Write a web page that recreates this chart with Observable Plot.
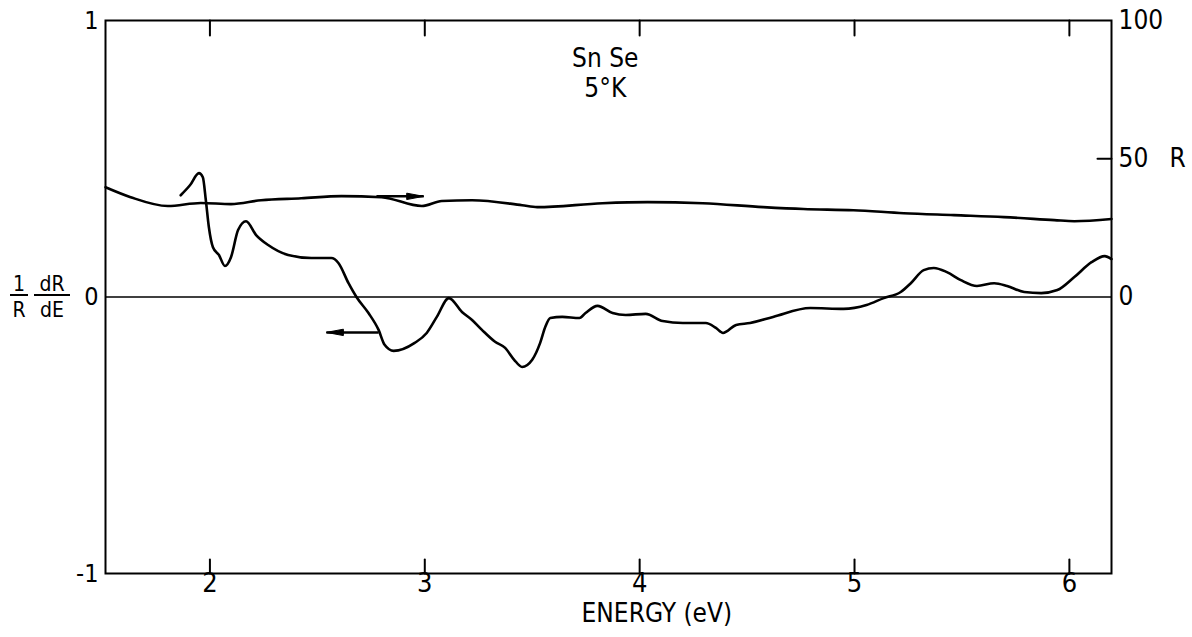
<!DOCTYPE html>
<html><head><meta charset="utf-8">
<script src="https://cdn.jsdelivr.net/npm/d3@7"></script>
<script src="https://cdn.jsdelivr.net/npm/@observablehq/plot@0.6"></script>
<style>body{margin:0;background:#fff;}</style>
</head><body><div id="chart"></div>
<script>
// ---- tick values & labels ----
const xTicks = [2, 3, 4, 5, 6];
const xTickLabels = ["2", "3", "4", "5", "6"];
const leftTicks = [1, 0, -1];
const leftTickLabels = ["1", "0", "-1"];
const rightTicks = [100, 50, 0];
const rightTickLabels = ["100", "50", "0"];
const rInnerTicks = [50];

// ---- reflectance R (%) vs energy (eV), right axis ----
const rEnergy = [1.514, 1.631, 1.804, 1.958, 2.098, 2.238, 2.425, 2.612, 2.799, 2.986, 3.079, 3.220, 3.453, 3.523, 3.827, 4.037, 4.294, 4.575, 4.762, 4.995, 5.229, 5.463, 5.696, 5.930, 6.023, 6.196];
const rValues = [39.7, 36.1, 32.9, 34.0, 33.6, 35.0, 35.7, 36.5, 36.1, 32.9, 34.7, 35.0, 33.2, 32.5, 33.9, 34.3, 33.9, 32.5, 31.8, 31.4, 30.3, 29.6, 28.9, 27.8, 27.4, 28.2];

// ---- (1/R) dR/dE vs energy (eV), left axis ----
const dEnergy = [1.864, 1.907, 1.949, 1.967, 1.981, 1.995, 2.014, 2.042, 2.070, 2.098, 2.131, 2.168, 2.215, 2.271, 2.364, 2.472, 2.565, 2.598, 2.645, 2.682, 2.738, 2.785, 2.813, 2.855, 2.953, 3.009, 3.056, 3.112, 3.173, 3.220, 3.266, 3.327, 3.374, 3.416, 3.453, 3.500, 3.537, 3.561, 3.584, 3.640, 3.720, 3.748, 3.804, 3.874, 3.935, 4.028, 4.107, 4.201, 4.308, 4.355, 4.388, 4.449, 4.514, 4.621, 4.794, 4.949, 5.056, 5.136, 5.215, 5.262, 5.322, 5.369, 5.430, 5.495, 5.570, 5.650, 5.710, 5.790, 5.869, 5.944, 6.023, 6.103, 6.164, 6.196];
const dValues = [0.368, 0.404, 0.448, 0.433, 0.350, 0.253, 0.180, 0.152, 0.112, 0.144, 0.242, 0.274, 0.224, 0.188, 0.152, 0.141, 0.141, 0.123, 0.050, 0.000, -0.058, -0.119, -0.173, -0.195, -0.166, -0.130, -0.072, -0.004, -0.054, -0.083, -0.119, -0.162, -0.184, -0.227, -0.253, -0.227, -0.166, -0.108, -0.076, -0.072, -0.076, -0.058, -0.032, -0.058, -0.065, -0.061, -0.087, -0.094, -0.094, -0.112, -0.130, -0.101, -0.094, -0.072, -0.040, -0.043, -0.029, -0.004, 0.018, 0.050, 0.097, 0.105, 0.090, 0.061, 0.040, 0.050, 0.040, 0.018, 0.014, 0.025, 0.072, 0.126, 0.148, 0.137];

// ---- annotation arrows (energy, left-axis value) ----
const arrowX1 = [2.775, 2.785];
const arrowX2 = [2.995, 2.542];
const arrowY = [0.364, -0.128];
const arrowDir = [90, -90];

const sampleLabels = ["Sn Se", "5°K"];

const FONT = "DejaVu Sans Condensed, DejaVu Sans";
const rData = rEnergy.map((e, i) => ({e, r: rValues[i]}));
const dData = dEnergy.map((e, i) => ({e, v: dValues[i]}));
const tickShape = {draw(ctx, l) { ctx.moveTo(0, 0); ctx.lineTo(0, -l); }};
// elongated filled arrowhead, tip at origin pointing up
const headSymbol = {draw(ctx) { ctx.moveTo(0, 0); ctx.lineTo(3.2, 17); ctx.lineTo(-3.2, 17); ctx.closePath(); }};

// y-axis fraction label "1/R dR/dE"
function yFractionLabel(index, scales, values, dims) {
  const g = d3.create("svg:g").attr("font-family", FONT).attr("font-size", 21).attr("fill", "black");
  const y0 = scales.y(0);
  const x0 = dims.marginLeft;
  const parts = [{num: "1", den: "R", cx: x0 - 86, hw: 9}, {num: "dR", den: "dE", cx: x0 - 53, hw: 18}];
  for (const p of parts) {
    g.append("text").attr("x", p.cx).attr("y", y0 - 13).attr("text-anchor", "middle").attr("dominant-baseline", "central").text(p.num);
    g.append("line").attr("x1", p.cx - p.hw).attr("x2", p.cx + p.hw).attr("y1", y0 - 1.5).attr("y2", y0 - 1.5).attr("stroke", "black").attr("stroke-width", 2);
    g.append("text").attr("x", p.cx).attr("y", y0 + 13).attr("text-anchor", "middle").attr("dominant-baseline", "central").text(p.den);
  }
  return g.node();
}

const chart = Plot.plot({
  width: 1192,
  height: 637,
  marginLeft: 105,
  marginRight: 81,
  marginTop: 20,
  marginBottom: 64,
  x: {domain: [1.514, 6.196], axis: null},
  y: {domain: [-1, 1], axis: null},
  style: {fontFamily: FONT, background: "white", color: "black"},
  marks: [
    Plot.ruleY([0], {stroke: "black", strokeWidth: 1.3}),
    Plot.frame({stroke: "black", strokeWidth: 2}),
    // inward ticks
    Plot.vector(xTicks, {x: d => d, frameAnchor: "bottom", length: 14, rotate: 0, anchor: "start", shape: tickShape, strokeWidth: 2, stroke: "black"}),
    Plot.vector(xTicks, {x: d => d, frameAnchor: "top", length: 15, rotate: 180, anchor: "start", shape: tickShape, strokeWidth: 2, stroke: "black"}),
    Plot.vector(rInnerTicks, {y: d => d / 100, frameAnchor: "right", length: 14, rotate: -90, anchor: "start", shape: tickShape, strokeWidth: 2, stroke: "black"}),
    // tick labels
    Plot.text(xTicks, {x: d => d, text: (d, i) => xTickLabels[i], frameAnchor: "bottom", dy: 18, fontSize: 27}),
    Plot.text(leftTicks, {y: d => d, text: (d, i) => leftTickLabels[i], frameAnchor: "left", dx: -7, textAnchor: "end", fontSize: 25}),
    Plot.text(rightTicks, {y: d => d / 100, text: (d, i) => rightTickLabels[i], frameAnchor: "right", dx: 7, textAnchor: "start", fontSize: 26}),
    Plot.text(["R"], {y: 0.5, frameAnchor: "right", dx: 58, textAnchor: "start", fontSize: 26}),
    Plot.text(["ENERGY (eV)"], {x: 4.08, frameAnchor: "bottom", dy: 48, fontSize: 26, letterSpacing: "1px"}),
    yFractionLabel,
    // sample labels
    Plot.text([sampleLabels[0]], {x: 3.84, y: 0.863, fontSize: 26}),
    Plot.text([sampleLabels[1]], {x: 3.84, y: 0.754, fontSize: 26, letterSpacing: "5px"}),
    // curves
    Plot.line(rData, {x: "e", y: d => d.r / 100, curve: "monotone-x", stroke: "black", strokeWidth: 2.6}),
    Plot.line(dData, {x: "e", y: "v", curve: "monotone-x", stroke: "black", strokeWidth: 2.6}),
    // arrows: shaft + filled head
    Plot.link(arrowX1, {x1: d => d, x2: (d, i) => arrowX2[i], y1: (d, i) => arrowY[i], y2: (d, i) => arrowY[i], strokeWidth: 2.5, stroke: "black"}),
    Plot.dot(arrowX2, {x: d => d, y: (d, i) => arrowY[i], symbol: headSymbol, rotate: (d, i) => arrowDir[i], fill: "black", stroke: "black", strokeWidth: 1})
  ]
});
document.getElementById("chart").appendChild(chart);
</script>
</body></html>
